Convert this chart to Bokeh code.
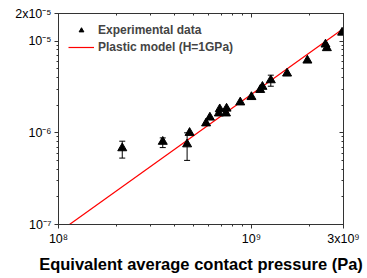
from bokeh.plotting import figure
from bokeh.models import (ColumnDataSource, FixedTicker, CustomJSTickFormatter, LogAxis,
                          Whisker, TeeHead, Legend, LegendItem)
from bokeh.embed import file_html
from bokeh.resources import INLINE

# Experimental data (pressure in Pa, y value)
exp_x = [2.14e8, 3.47e8, 4.78e8, 4.64e8, 5.82e8, 6.09e8, 6.78e8, 6.85e8, 7.43e8, 7.38e8,
         8.75e8, 1.0e9, 1.11e9, 1.14e9, 1.26e9, 1.53e9, 1.95e9, 2.42e9, 2.46e9, 2.95e9]
exp_y = [6.8e-7, 8.0e-7, 1.0e-6, 7.5e-7, 1.27e-6, 1.47e-6, 1.63e-6, 1.81e-6, 1.84e-6, 1.63e-6,
         2.15e-6, 2.46e-6, 2.94e-6, 3.18e-6, 3.75e-6, 4.44e-6, 6.15e-6, 9.2e-6, 8.4e-6, 1.24e-5]

# Error bars visible in the picture
err_x = [2.14e8, 3.47e8, 4.64e8, 1.26e9]
err_lo = [5.3e-7, 6.9e-7, 5.0e-7, 3.22e-6]
err_hi = [8.1e-7, 8.8e-7, 1.0e-6, 4.25e-6]

# Plastic model line endpoints (H = 1 GPa)
model_x = [1.14e8, 3.0e9]
model_y = [1.0e-7, 1.37e-5]

x_major = [1e8, 1e9, 3e9]
x_minor = [2e8, 3e8, 4e8, 5e8, 6e8, 7e8, 8e8, 9e8, 2e9]
y_major = [1e-7, 1e-6, 1e-5, 2e-5]
y_minor = [2e-7, 3e-7, 4e-7, 5e-7, 6e-7, 7e-7, 8e-7, 9e-7,
           2e-6, 3e-6, 4e-6, 5e-6, 6e-6, 7e-6, 8e-6, 9e-6]

FONT = "Liberation Sans"

p = figure(width=367, height=278, x_axis_type="log", y_axis_type="log",
           x_range=(1e8, 3e9), y_range=(1e-7, 2e-5),
           output_backend="svg", toolbar_location=None,
           min_border_left=58, min_border_right=24, min_border_top=13, min_border_bottom=54)
p.grid.visible = False
p.outline_line_color = "#333333"
p.background_fill_color = "white"
p.border_fill_color = "white"

fmt = CustomJSTickFormatter(code="""
const sup = {"-":"\\u207B","0":"\\u2070","1":"\\u00B9","2":"\\u00B2","3":"\\u00B3",
             "4":"\\u2074","5":"\\u2075","6":"\\u2076","7":"\\u2077","8":"\\u2078","9":"\\u2079"};
const e = Math.floor(Math.log10(tick) + 1e-9);
const m = Math.round(tick / Math.pow(10, e));
const s = String(e).split("").map(c => sup[c]).join("");
return (m == 1 ? "" : m + "x") + "10" + s;
""")
blank = CustomJSTickFormatter(code="return '';")

xt = FixedTicker(ticks=x_major, minor_ticks=x_minor)
yt = FixedTicker(ticks=y_major, minor_ticks=y_minor)

for ax, t in ((p.xaxis[0], xt), (p.yaxis[0], yt)):
    ax.ticker = t
    ax.formatter = fmt
    ax.axis_line_color = "#333333"
    ax.major_tick_line_color = "#333333"
    ax.minor_tick_line_color = "#333333"
    ax.major_tick_in = 0
    ax.major_tick_out = 4
    ax.minor_tick_in = 0
    ax.minor_tick_out = 2
    ax.major_label_text_font = FONT
    ax.major_label_text_font_size = "12.5px"
    ax.major_label_text_color = "black"
    ax.major_label_standoff = 3

p.xaxis[0].axis_label = "Equivalent average contact pressure (Pa)"
p.xaxis[0].axis_label_text_font = FONT
p.xaxis[0].axis_label_text_font_style = "bold"
p.xaxis[0].axis_label_text_font_size = "16.5px"
p.xaxis[0].axis_label_text_color = "black"
p.xaxis[0].axis_label_standoff = 6

for loc, t in (("above", xt), ("right", yt)):
    ax = LogAxis(ticker=t, formatter=blank, major_tick_in=4, major_tick_out=0,
                 minor_tick_in=2, minor_tick_out=0, major_label_standoff=0,
                 major_label_text_font_size="0px", axis_line_color="#333333",
                 major_tick_line_color="#333333", minor_tick_line_color="#333333")
    p.add_layout(ax, loc)

model = p.line(model_x, model_y, line_color="#ff0000", line_width=1.2)

esrc = ColumnDataSource(dict(x=err_x, lo=err_lo, hi=err_hi))
wh = Whisker(source=esrc, base="x", lower="lo", upper="hi", dimension="height",
             line_color="black", line_width=1,
             upper_head=TeeHead(size=6, line_color="black", line_width=1),
             lower_head=TeeHead(size=6, line_color="black", line_width=1))
p.add_layout(wh)

pts = p.scatter(exp_x, exp_y, marker="triangle", size=9, fill_color="black", line_color="black")

legend = Legend(items=[LegendItem(label="Experimental data", renderers=[pts]),
                       LegendItem(label="Plastic model (H=1GPa)", renderers=[model])],
                location="top_left", border_line_color=None, background_fill_alpha=0,
                label_text_font=FONT, label_text_font_style="bold", label_text_font_size="12px",
                glyph_height=12, glyph_width=26, label_height=12, spacing=3,
                label_standoff=4, padding=0, margin=10)
p.add_layout(legend)

open("out.html", "w", encoding="utf-8").write(file_html(p, INLINE))
